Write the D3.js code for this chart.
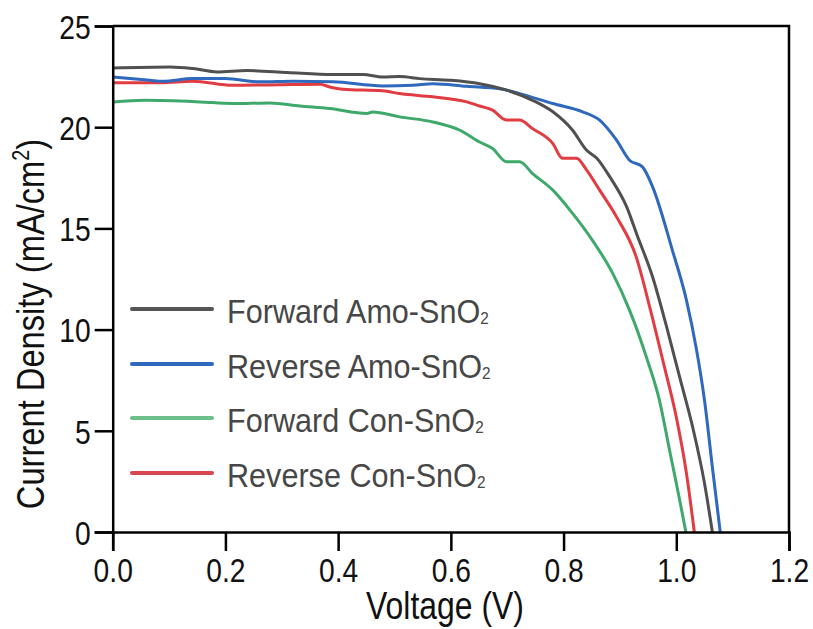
<!DOCTYPE html>
<html>
<head>
<meta charset="utf-8">
<script src="https://cdn.jsdelivr.net/npm/d3@7"></script>
<style>
  body { margin: 0; background: #fff; }
  svg text { font-family: "Liberation Sans", Arial, Helvetica, sans-serif; }
</style>
</head>
<body>
<svg id="chart" width="813" height="629"></svg>
<script>
// J-V curves, voltage (V) vs current density (mA/cm2)
const fwdAmoV = [0, 0.102, 0.142, 0.185, 0.238, 0.31, 0.391, 0.444, 0.479, 0.509, 0.545, 0.598, 0.651, 0.699, 0.745, 0.781, 0.816, 0.841, 0.859, 0.882, 0.912, 0.93, 0.958, 0.983, 1.006, 1.029, 1.05, 1.064];
const fwdAmoJ = [22.93, 22.98, 22.9, 22.73, 22.8, 22.7, 22.6, 22.6, 22.48, 22.5, 22.4, 22.32, 22.15, 21.83, 21.33, 20.76, 19.85, 18.86, 18.47, 17.55, 16.06, 14.7, 12.6, 10.12, 7.65, 5.19, 2.42, 0];

const revAmoV = [0, 0.066, 0.089, 0.142, 0.199, 0.261, 0.32, 0.391, 0.479, 0.532, 0.568, 0.628, 0.687, 0.722, 0.781, 0.834, 0.864, 0.894, 0.917, 0.94, 0.958, 0.993, 1.018, 1.036, 1.05, 1.064, 1.078];
const revAmoJ = [22.48, 22.32, 22.27, 22.4, 22.4, 22.24, 22.27, 22.24, 22.04, 22.07, 22.15, 22.02, 21.9, 21.66, 21.17, 20.76, 20.35, 19.36, 18.37, 18.04, 17.05, 13.93, 11.46, 8.99, 6.52, 3.21, 0];

const fwdConV = [0, 0.057, 0.155, 0.213, 0.279, 0.332, 0.385, 0.451, 0.461, 0.509, 0.568, 0.616, 0.651, 0.674, 0.699, 0.722, 0.745, 0.781, 0.816, 0.851, 0.887, 0.917, 0.947, 0.97, 0.988, 1.006, 1.017];
const fwdConJ = [21.25, 21.33, 21.25, 21.17, 21.2, 21.05, 20.92, 20.68, 20.75, 20.51, 20.26, 19.85, 19.27, 18.95, 18.29, 18.29, 17.71, 16.89, 15.74, 14.42, 12.79, 10.96, 8.64, 6.52, 4.05, 1.58, 0];

const revConV = [0, 0.085, 0.142, 0.213, 0.297, 0.368, 0.385, 0.408, 0.479, 0.509, 0.568, 0.628, 0.651, 0.674, 0.699, 0.722, 0.745, 0.781, 0.798, 0.823, 0.841, 0.864, 0.894, 0.929, 0.953, 0.976, 1.0, 1.018, 1.032];
const revConJ = [22.19, 22.19, 22.27, 22.07, 22.1, 22.12, 21.99, 21.88, 21.8, 21.66, 21.5, 21.25, 21.05, 20.84, 20.35, 20.35, 19.93, 19.19, 18.46, 18.47, 17.88, 16.89, 15.57, 13.58, 11.1, 8.49, 5.68, 2.91, 0];

const seriesNames = ["Forward Amo-SnO", "Reverse Amo-SnO", "Forward Con-SnO", "Reverse Con-SnO"];
const xTicks = [0, 0.2, 0.4, 0.6, 0.8, 1.0, 1.2];
const yTicks = [0, 5, 10, 15, 20, 25];

const lineColors   = ["#505050", "#2f69bd", "#3ea96b", "#e23c43"];
const legendColors = ["#555555", "#2f69bd", "#6dbf8c", "#d9464f"];

const series = [
  { name: seriesNames[0], v: fwdAmoV, j: fwdAmoJ },
  { name: seriesNames[1], v: revAmoV, j: revAmoJ },
  { name: seriesNames[2], v: fwdConV, j: fwdConJ },
  { name: seriesNames[3], v: revConV, j: revConJ }
];

const svg = d3.select("#chart");
const m = { left: 112.7, right: 789, top: 26, bottom: 532 };
const narrow = 0.83; // the figure uses a condensed face; squeeze Liberation Sans

const x = d3.scaleLinear().domain([0, 1.2]).range([m.left, m.right]);
const y = d3.scaleLinear().domain([0, 25]).range([m.bottom, m.top]);

const line = d3.line()
  .x(d => x(d[0])).y(d => y(d[1]))
  .curve(d3.curveMonotoneX);

// draw order: red, green, blue, gray on top
[3, 2, 1, 0].forEach(i => {
  const s = series[i];
  svg.append("path")
    .datum(s.v.map((v, k) => [v, s.j[k]]))
    .attr("fill", "none")
    .attr("stroke", lineColors[i])
    .attr("stroke-width", 3)
    .attr("stroke-linejoin", "round")
    .attr("d", line);
});

// frame: top and right
svg.append("path")
  .attr("d", `M${m.left},${m.top}H${m.right}V${m.bottom}`)
  .attr("fill", "none").attr("stroke", "#000").attr("stroke-width", 2.5);

const xAxis = svg.append("g")
  .attr("transform", `translate(0,${m.bottom})`)
  .call(d3.axisBottom(x).tickValues(xTicks).tickFormat(d3.format(".1f")).tickSize(19).tickPadding(7));

const yAxis = svg.append("g")
  .attr("transform", `translate(${m.left},0)`)
  .call(d3.axisLeft(y).tickValues(yTicks).tickSize(18).tickPadding(3));

[xAxis, yAxis].forEach(a => {
  a.select(".domain").attr("stroke", "#000").attr("stroke-width", 2.5);
  a.selectAll(".tick line").attr("stroke", "#000").attr("stroke-width", 2.5);
  a.selectAll(".tick text").attr("fill", "#111").attr("font-size", 34)
    .style("font-family", '"Liberation Sans", Arial, sans-serif');
});
xAxis.selectAll(".tick text").attr("transform", `scale(${narrow},1)`);
yAxis.selectAll(".tick text")
  .attr("dy", "0.36em")
  .attr("x", -22 / narrow)
  .attr("transform", `scale(${narrow},1)`);

// axis titles
svg.append("text")
  .attr("transform", `translate(445,619) scale(0.84,1)`)
  .attr("text-anchor", "middle")
  .attr("font-size", 38)
  .attr("fill", "#111")
  .text("Voltage (V)");

const yt = svg.append("text")
  .attr("transform", `translate(44,324) rotate(-90) scale(0.86,1)`)
  .attr("text-anchor", "middle")
  .attr("font-size", 38)
  .attr("fill", "#111");
yt.append("tspan").text("Current Density (mA/cm");
yt.append("tspan").attr("font-size", 23).attr("dy", -15).text("2");
yt.append("tspan").attr("dy", 15).text(")");

// legend
const legendY = [309, 364, 418, 473];
series.forEach((s, i) => {
  const g = svg.append("g").attr("transform", `translate(0,${legendY[i]})`);
  g.append("line")
    .attr("x1", 132).attr("x2", 212)
    .attr("stroke", legendColors[i]).attr("stroke-width", 4)
    .attr("stroke-linecap", "round");
  const t = g.append("text")
    .attr("transform", "translate(227,14) scale(0.9,1)")
    .attr("font-size", 34)
    .attr("fill", "#474747");
  t.append("tspan").text(s.name);
  t.append("tspan").attr("font-size", 17).attr("dy", 1).text("2");
});
</script>
</body>
</html>
